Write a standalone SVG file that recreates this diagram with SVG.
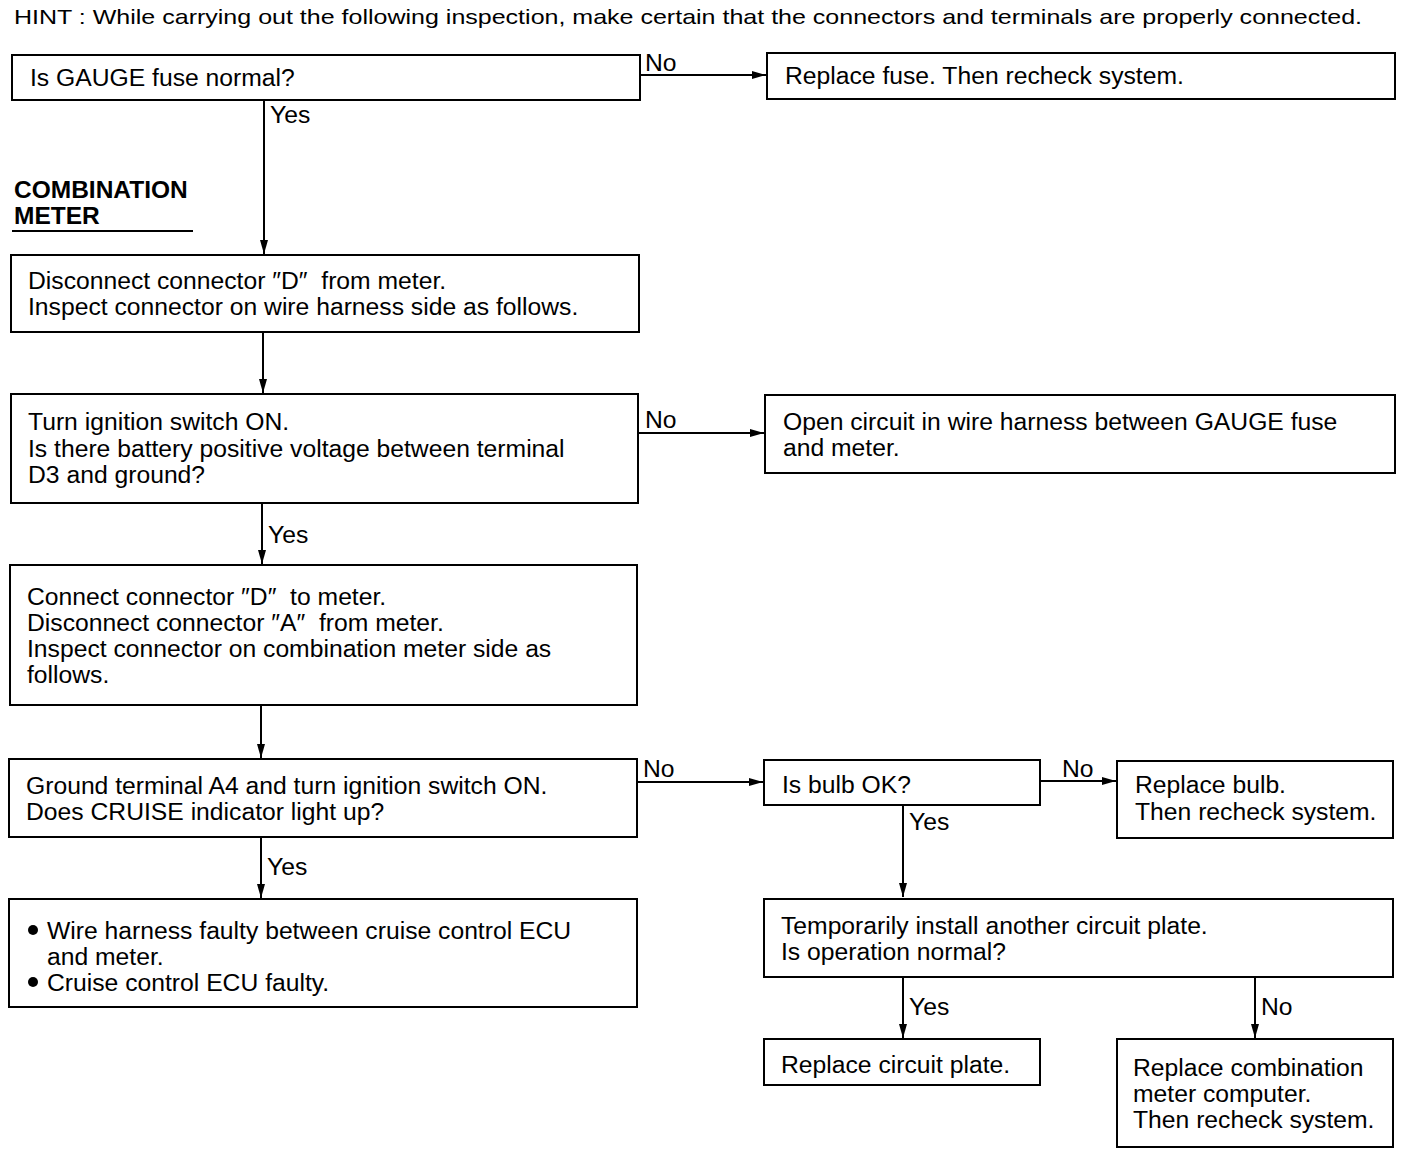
<svg xmlns="http://www.w3.org/2000/svg" width="1408" height="1162" viewBox="0 0 1408 1162">
<defs>
<marker id="ah" viewBox="0 0 14 8" refX="14" refY="4" markerWidth="14" markerHeight="8" markerUnits="userSpaceOnUse" orient="auto">
<path d="M0,0 L14,4 L0,8 Z" fill="#000"/>
</marker>
</defs>
<style>
text{font-family:"Liberation Sans",Arial,sans-serif;font-size:24.7px;fill:#000}
.hint{font-size:21px}
.b{font-weight:bold;font-size:24.5px}
rect{fill:#fff;stroke:#000;stroke-width:2}
line{stroke:#000;stroke-width:2}
.c line{marker-end:url(#ah)}
</style>
<rect x="0" y="0" width="1408" height="1162" style="stroke:none"/>
<text class="hint" x="14" y="24" textLength="1348" lengthAdjust="spacingAndGlyphs">HINT : While carrying out the following inspection, make certain that the connectors and terminals are properly connected.</text>
<g id="label-meter">
<text class="b" x="14" y="198">COMBINATION</text>
<text class="b" x="14" y="224">METER</text>
<line x1="12" y1="231" x2="193" y2="231"/>
</g>
<g class="c" id="connectors">
<line x1="640" y1="75" x2="766" y2="75"/>
<line x1="264" y1="100" x2="264" y2="254"/>
<line x1="263" y1="332" x2="263" y2="393"/>
<line x1="638" y1="433" x2="764" y2="433"/>
<line x1="262" y1="503" x2="262" y2="564"/>
<line x1="261" y1="705" x2="261" y2="758"/>
<line x1="637" y1="782" x2="763" y2="782"/>
<line x1="1040" y1="781" x2="1116" y2="781"/>
<line x1="903" y1="805" x2="903" y2="897"/>
<line x1="261" y1="837" x2="261" y2="898"/>
<line x1="903" y1="977" x2="903" y2="1038"/>
<line x1="1255" y1="977" x2="1255" y2="1038"/>
</g>
<g id="connector-labels">
<text x="645" y="71">No</text>
<text x="270" y="123">Yes</text>
<text x="645" y="428">No</text>
<text x="268" y="543">Yes</text>
<text x="643" y="777">No</text>
<text x="1062" y="777">No</text>
<text x="909" y="830">Yes</text>
<text x="267" y="875">Yes</text>
<text x="909" y="1015">Yes</text>
<text x="1261" y="1015">No</text>
</g>
<g id="n1"><rect x="12" y="55" width="628" height="45"/><text x="30" y="86">Is GAUGE fuse normal?</text></g>
<g id="n2"><rect x="767" y="53" width="628" height="46"/><text x="785" y="84">Replace fuse. Then recheck system.</text></g>
<g id="n3"><rect x="11" y="255" width="628" height="77"/><text x="28" y="289">Disconnect connector ″D″&#160; from meter.</text><text x="28" y="315">Inspect connector on wire harness side as follows.</text></g>
<g id="n4"><rect x="11" y="394" width="627" height="109"/><text x="28" y="430">Turn ignition switch ON.</text><text x="28" y="457">Is there battery positive voltage between terminal</text><text x="28" y="483">D3 and ground?</text></g>
<g id="n5"><rect x="765" y="395" width="630" height="78"/><text x="783" y="430">Open circuit in wire harness between GAUGE fuse</text><text x="783" y="456">and meter.</text></g>
<g id="n6"><rect x="10" y="565" width="627" height="140"/><text x="27" y="605">Connect connector ″D″&#160; to meter.</text><text x="27" y="631">Disconnect connector ″A″&#160; from meter.</text><text x="27" y="657">Inspect connector on combination meter side as</text><text x="27" y="683">follows.</text></g>
<g id="n7"><rect x="9" y="759" width="628" height="78"/><text x="26" y="794">Ground terminal A4 and turn ignition switch ON.</text><text x="26" y="820">Does CRUISE indicator light up?</text></g>
<g id="n8"><rect x="764" y="760" width="276" height="45"/><text x="782" y="793">Is bulb OK?</text></g>
<g id="n9"><rect x="1117" y="761" width="276" height="77"/><text x="1135" y="793">Replace bulb.</text><text x="1135" y="820">Then recheck system.</text></g>
<g id="n10"><rect x="9" y="899" width="628" height="108"/><circle cx="33" cy="930" r="5"/><circle cx="33" cy="982" r="5"/><text x="47" y="939">Wire harness faulty between cruise control ECU</text><text x="47" y="965">and meter.</text><text x="47" y="991">Cruise control ECU faulty.</text></g>
<g id="n11"><rect x="764" y="899" width="629" height="78"/><text x="781" y="934">Temporarily install another circuit plate.</text><text x="781" y="960">Is operation normal?</text></g>
<g id="n12"><rect x="764" y="1039" width="276" height="46"/><text x="781" y="1073">Replace circuit plate.</text></g>
<g id="n13"><rect x="1117" y="1039" width="276" height="108"/><text x="1133" y="1076">Replace combination</text><text x="1133" y="1102">meter computer.</text><text x="1133" y="1128">Then recheck system.</text></g>
</svg>
